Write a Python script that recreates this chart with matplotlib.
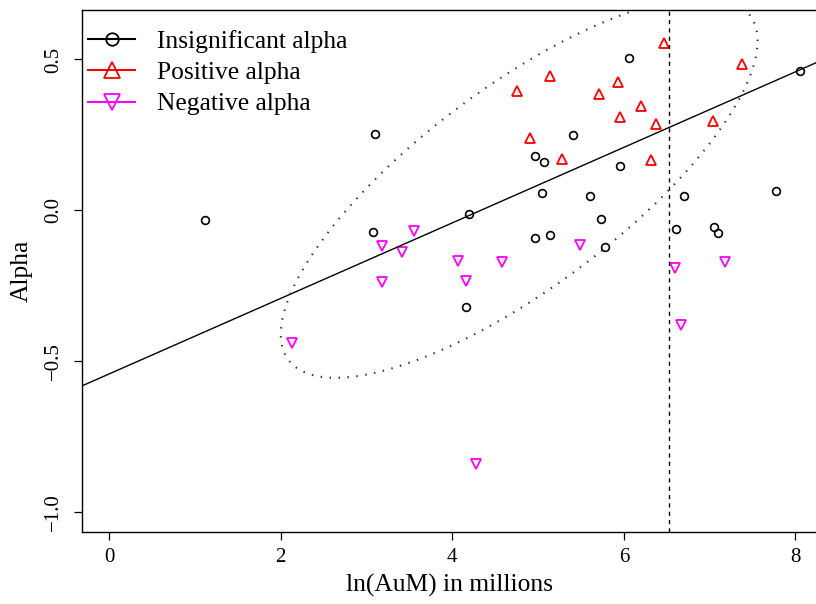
import numpy as np
import matplotlib.pyplot as plt
from matplotlib.lines import Line2D

plt.rcParams['font.family'] = ['Liberation Serif', 'DejaVu Serif']

# fund points: ln(AuM) vs alpha
insig_x = [1.12, 3.10, 3.08, 4.20, 4.16, 4.96, 5.07, 5.05, 4.97, 5.14, 5.41,
           5.61, 5.73, 5.78, 6.06, 5.96, 6.61, 6.70, 7.05, 7.10, 7.77, 8.05]
insig_y = [-0.031, 0.253, -0.071, -0.012, -0.320, 0.180, 0.160, 0.058, -0.091, -0.081, 0.250,
           0.048, -0.028, -0.120, 0.505, 0.147, -0.061, 0.048, -0.055, -0.075, 0.065, 0.462]

pos_x = [6.47, 7.375, 5.136, 4.754, 5.936, 5.71, 6.204, 5.96, 6.38, 7.037, 4.91, 5.28, 6.317]
pos_y = [0.554, 0.484, 0.444, 0.397, 0.425, 0.385, 0.347, 0.311, 0.286, 0.295, 0.239, 0.172, 0.167]

neg_x = [3.554, 3.177, 3.417, 3.177, 4.063, 4.583, 4.156, 5.493, 6.597, 7.18, 2.131, 6.67, 4.28]
neg_y = [-0.068, -0.118, -0.138, -0.237, -0.168, -0.171, -0.232, -0.115, -0.191, -0.171, -0.438, -0.380, -0.839]

labels = ['Insignificant alpha', 'Positive alpha', 'Negative alpha']

# fitted line and cutoff
intercept, slope = -0.541, 0.125
cutoff = 6.527

# ellipse params (center, half extents, correlation)
ell_cx, ell_cy = 4.78, 0.076
ell_ax, ell_ay = 2.78, 0.63
ell_rho = 0.77

fig = plt.figure(figsize=(8.16, 6.04), dpi=100)
ax = fig.add_axes([82/816, 72/604, 734/816, 522/604])

ax.plot(insig_x, insig_y, 'o', mfc='none', mec='black', ms=5.6, mew=1.2, ls='none')
ax.plot(pos_x, pos_y, '^', mfc='none', mec='red', ms=7, mew=1.3, ls='none')
ax.plot(neg_x, neg_y, 'v', mfc='none', mec='magenta', ms=7, mew=1.3, ls='none')

xs = np.array([-1, 9])
ax.plot(xs, intercept + slope * xs, color='black', lw=1)
ax.axvline(cutoff, color='black', lw=1, ls=(0, (3, 3)))

t = np.linspace(0, 2 * np.pi, 400)
d = np.arccos(ell_rho)
ax.plot(ell_cx + ell_ax * np.cos(t), ell_cy + ell_ay * np.cos(t - d),
        color='#333333', lw=1.5, ls=(0, (0.7, 3.6)))

ax.set_xlim(-0.318, 8.241)
ax.set_ylim(-1.0646, 0.6639)
ax.set_xticks([0, 2, 4, 6, 8])
ax.set_yticks([-1.0, -0.5, 0.0, 0.5])
ax.set_yticklabels(['\u22121.0', '\u22120.5', '0.0', '0.5'], rotation=90, va='center')
ax.tick_params(direction='out', length=5.5, width=0.9, labelsize=15)
ax.tick_params(axis='x', pad=6)
ax.tick_params(axis='y', pad=8)
ax.spines['right'].set_visible(False)
for s in ['left', 'bottom', 'top']:
    ax.spines[s].set_linewidth(1)

ax.set_xlabel('ln(AuM) in millions', fontsize=18.4, labelpad=5)
ax.set_ylabel('Alpha', fontsize=18.4, labelpad=8)

handles = [
    Line2D([], [], color='black', lw=1.5, marker='o', mfc='none', mec='black', ms=9, mew=1.3),
    Line2D([], [], color='red', lw=1.5, marker='^', mfc='none', mec='red', ms=11, mew=1.3),
    Line2D([], [], color='magenta', lw=1.5, marker='v', mfc='none', mec='magenta', ms=11, mew=1.3),
]
ax.legend(handles, labels, loc='upper left', bbox_to_anchor=(0.0082, 0.962),
          frameon=False, fontsize=18.4,
          handlelength=1.85, handletextpad=0.85, labelspacing=0.33,
          borderaxespad=0, borderpad=0)

fig.savefig('out.png', dpi=100)
